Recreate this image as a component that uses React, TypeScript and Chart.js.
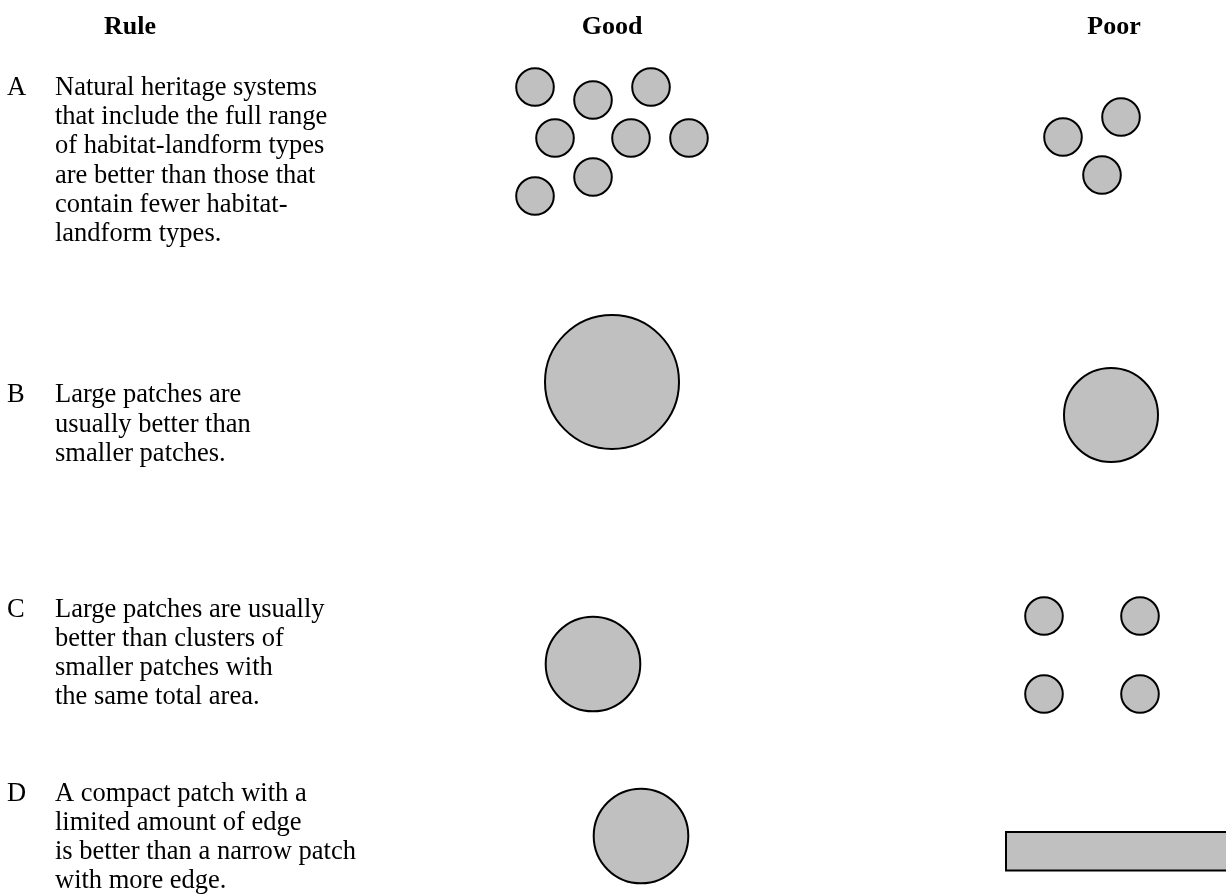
import React, { useEffect, useRef } from "react";
import { Chart, registerables } from "chart.js";

Chart.register(...registerables);

const W = 1226;
const H = 896;

// Column headers
const headers = ["Rule", "Good", "Poor"];

// Rule letters and text lines
const ruleLetters = ["A", "B", "C", "D"];
const ruleA = [
  "Natural heritage systems",
  "that include the full range",
  "of habitat-landform types",
  "are better than those that",
  "contain fewer habitat-",
  "landform types.",
];
const ruleB = ["Large patches are", "usually better than", "smaller patches."];
const ruleC = [
  "Large patches are usually",
  "better than clusters of",
  "smaller patches with",
  "the same total area.",
];
const ruleD = [
  "A compact patch with a",
  "limited amount of edge",
  "is better than a narrow patch",
  "with more edge.",
];

// Patches (x, y in page pixels, r = radius)
const goodA = [
  { x: 535, y: 87, r: 18.8 },
  { x: 593, y: 100, r: 18.8 },
  { x: 651, y: 87, r: 18.8 },
  { x: 555, y: 138, r: 18.8 },
  { x: 631, y: 138, r: 18.8 },
  { x: 689, y: 138, r: 18.8 },
  { x: 593, y: 177, r: 18.8 },
  { x: 535, y: 196, r: 18.8 },
];
const poorA = [
  { x: 1063, y: 137, r: 18.8 },
  { x: 1121, y: 117, r: 18.8 },
  { x: 1102, y: 175, r: 18.8 },
];
const goodB = [{ x: 612, y: 382, r: 67 }];
const poorB = [{ x: 1111, y: 415, r: 47 }];
const goodC = [{ x: 593, y: 664, r: 47.3 }];
const poorC = [
  { x: 1044, y: 616, r: 18.8 },
  { x: 1140, y: 616, r: 18.8 },
  { x: 1044, y: 694, r: 18.8 },
  { x: 1140, y: 694, r: 18.8 },
];
const goodD = [{ x: 641, y: 836, r: 47.3 }];
// narrow patch: [x1, y1, x2, y2]
const poorDRect = [1006, 832, 1232, 870.5];

const FILL = "#c0c0c0";
const STROKE = "#000000";
const FONT = "'Liberation Serif', 'Times New Roman', serif";

export default function App() {
  const ref = useRef<HTMLCanvasElement | null>(null);

  useEffect(() => {
    if (!ref.current) return;

    const textPlugin = {
      id: "diagramText",
      afterDraw(chart: any) {
        const ctx = chart.ctx;
        const xs = chart.scales.x;
        const ys = chart.scales.y;
        ctx.save();
        ctx.fillStyle = "#000";
        ctx.textBaseline = "alphabetic";
        // headers
        ctx.font = `bold 26px ${FONT}`;
        ctx.textAlign = "left";
        ctx.fillText(headers[0], xs.getPixelForValue(104), ys.getPixelForValue(34));
        ctx.textAlign = "center";
        ctx.fillText(headers[1], xs.getPixelForValue(612), ys.getPixelForValue(34));
        ctx.fillText(headers[2], xs.getPixelForValue(1114), ys.getPixelForValue(34));
        // rules
        ctx.font = `26.5px ${FONT}`;
        ctx.textAlign = "left";
        const blocks = [ruleA, ruleB, ruleC, ruleD];
        const starts = [95, 402.3, 616.7, 800.7];
        const lh = 29.2;
        blocks.forEach((lines, i) => {
          const y0 = starts[i];
          ctx.fillText(ruleLetters[i], xs.getPixelForValue(7), ys.getPixelForValue(y0));
          lines.forEach((ln, j) => {
            ctx.fillText(ln, xs.getPixelForValue(55), ys.getPixelForValue(y0 + j * lh));
          });
        });
        ctx.restore();
      },
      beforeDatasetsDraw(chart: any) {
        const ctx = chart.ctx;
        const xs = chart.scales.x;
        const ys = chart.scales.y;
        const x1 = xs.getPixelForValue(poorDRect[0]);
        const y1 = ys.getPixelForValue(poorDRect[1]);
        const x2 = xs.getPixelForValue(poorDRect[2]);
        const y2 = ys.getPixelForValue(poorDRect[3]);
        ctx.save();
        ctx.fillStyle = FILL;
        ctx.strokeStyle = STROKE;
        ctx.lineWidth = 2;
        ctx.fillRect(x1, y1, x2 - x1, y2 - y1);
        ctx.strokeRect(x1, y1, x2 - x1, y2 - y1);
        ctx.restore();
      },
    };

    const mk = (label: string, data: any[]) => ({
      label,
      data,
      backgroundColor: FILL,
      borderColor: STROKE,
      borderWidth: 2,
      hoverBorderWidth: 2,
    });

    const chart = new Chart(ref.current, {
      type: "bubble",
      data: {
        datasets: [
          mk("Good A", goodA),
          mk("Poor A", poorA),
          mk("Good B", goodB),
          mk("Poor B", poorB),
          mk("Good C", goodC),
          mk("Poor C", poorC),
          mk("Good D", goodD),
        ],
      },
      options: {
        animation: false,
        responsive: false,
        devicePixelRatio: 1,
        layout: { padding: 0, autoPadding: false },
        plugins: {
          legend: { display: false },
          tooltip: { enabled: false },
          title: { display: false },
        },
        events: [],
        scales: {
          x: { type: "linear", min: 0, max: W, display: false },
          y: { type: "linear", min: 0, max: H, reverse: true, display: false },
        },
      },
      plugins: [textPlugin],
    });

    return () => chart.destroy();
  }, []);

  return (
    <div style={{ position: "absolute", left: 0, top: 0, width: W, height: H, background: "#fff" }}>
      <canvas ref={ref} width={W} height={H} style={{ width: W, height: H, display: "block" }} />
    </div>
  );
}
